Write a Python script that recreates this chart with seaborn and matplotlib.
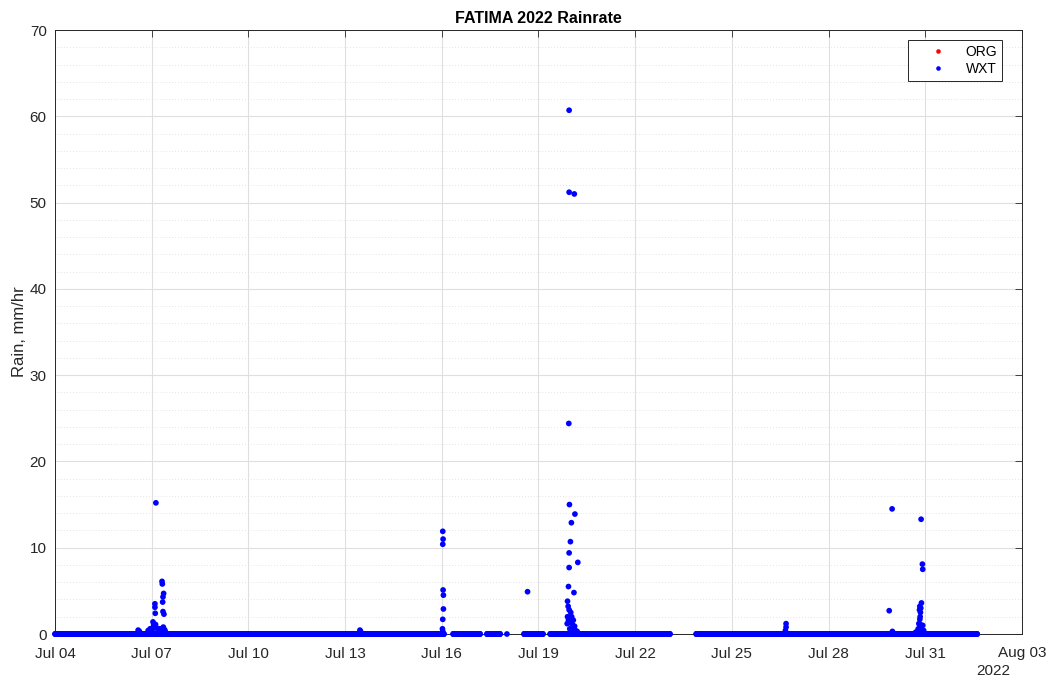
import numpy as np
import pandas as pd
import matplotlib
matplotlib.use("Agg")
import matplotlib.pyplot as plt
import matplotlib.dates as mdates
from matplotlib.ticker import MultipleLocator
import seaborn as sns

# ---------------- data ----------------
start = pd.Timestamp("2022-07-04")
end = pd.Timestamp("2022-08-03")

# zero-rain stretches of WXT record (day offsets from Jul 04 00:00)
zero_seg_start = [0.00, 12.35, 13.40, 14.02, 14.55, 15.36, 19.89]
zero_seg_end   = [12.07, 13.19, 13.81, 14.02, 15.14, 19.08, 28.61]
sample_minutes = 10

# non-zero WXT rain rates (day offset, mm/hr)
rain_days = [
    2.58, 2.62, 2.89, 2.95, 3.01, 3.04, 3.06, 3.08, 3.10, 3.10, 3.11, 3.13, 3.12, 3.15,
    3.20, 3.25, 3.30, 3.32, 3.33, 3.35, 3.34, 3.37, 3.35, 3.38, 3.40, 3.36, 3.42,
    9.46, 9.48,
    12.03, 12.04, 12.03, 12.04, 12.05, 12.05, 12.03, 12.02, 12.03,
    14.66,
    15.95, 15.95, 16.11, 15.94, 15.96, 16.13, 16.02, 15.99, 15.95, 16.22, 15.95, 15.93,
    16.10, 15.90, 15.92, 15.95, 16.00, 15.90, 15.93, 16.00, 15.89, 16.05, 16.12, 16.10,
    16.15, 15.97, 16.20, 16.08, 16.03,
    22.68, 22.68, 22.66,
    25.97, 25.88, 25.98, 26.87, 26.91, 26.92, 26.88, 26.83, 26.86, 26.82, 26.85, 26.84,
    26.83, 26.80, 26.85, 26.88, 26.92, 26.78, 26.90, 26.75, 26.95, 26.70,
]
rain_vals = [
    0.45, 0.3, 0.4, 0.6, 0.4, 1.4, 1.0, 0.8, 3.5, 3.1, 2.4, 15.2, 1.1, 0.7,
    0.5, 0.6, 0.4, 6.1, 5.8, 4.3, 3.7, 4.7, 2.6, 2.3, 0.5, 0.8, 0.3,
    0.45, 0.3,
    11.9, 11.0, 10.4, 5.1, 4.5, 2.9, 1.7, 0.6, 0.3,
    4.9,
    60.7, 51.2, 51.0, 24.4, 15.0, 13.9, 12.9, 10.7, 9.4, 8.3, 7.7, 5.5,
    4.8, 3.8, 3.2, 2.8, 2.5, 2.0, 1.6, 1.3, 1.2, 1.1, 0.9, 0.5,
    0.4, 0.6, 0.3, 1.6, 2.0,
    1.2, 0.8, 0.4,
    14.5, 2.7, 0.3, 13.3, 8.1, 7.5, 3.6, 3.2, 3.0, 2.8, 2.5, 2.0,
    1.7, 1.2, 1.1, 0.9, 1.0, 0.6, 0.5, 0.3, 0.4, 0.2,
]

# ORG gauge: no visible data in this period
org_days = []
org_vals = []

series_names = ["ORG", "WXT"]
series_colors = ["#ff0000", "#0000ff"]

# ---------------- build frame ----------------
zero_days = []
for a, b in zip(zero_seg_start, zero_seg_end):
    n = int(round((b - a) * 1440 / sample_minutes)) + 1
    zero_days.append(np.linspace(a, b, n))
zero_days = np.concatenate(zero_days)

wxt_days = np.concatenate([zero_days, np.array(rain_days)])
wxt_vals = np.concatenate([np.zeros(len(zero_days)), np.array(rain_vals)])

df = pd.DataFrame({
    "time": list(start + pd.to_timedelta(org_days, unit="D")) + list(start + pd.to_timedelta(wxt_days, unit="D")),
    "rain": list(org_vals) + list(wxt_vals),
    "sensor": ["ORG"] * len(org_days) + ["WXT"] * len(wxt_days),
})

# ---------------- plot ----------------
sns.set_style("white")
plt.rcParams["font.family"] = ["Liberation Sans", "DejaVu Sans"]
dark = "#262626"

fig = plt.figure(figsize=(10.52, 6.81), dpi=100)
ax = fig.add_axes([55 / 1052, 1 - 634 / 681, 967 / 1052, 604 / 681])

sns.scatterplot(data=df, x="time", y="rain", hue="sensor", hue_order=series_names,
                palette=dict(zip(series_names, series_colors)), s=17, linewidth=0,
                ax=ax, legend=True)
for coll in ax.collections:
    coll.set_clip_on(False)
    coll.set_zorder(3)

ax.set_xlim(start, end)
ax.set_ylim(0, 70)
ticks = pd.date_range(start, end, freq="3D")
ax.set_xticks(ticks)
ax.xaxis.set_major_formatter(mdates.DateFormatter("%b %d"))
ax.yaxis.set_major_locator(MultipleLocator(10))
ax.yaxis.set_minor_locator(MultipleLocator(2))

ax.grid(True, which="major", color="#dfdfdf", linewidth=0.8, linestyle="-")
ax.grid(True, which="minor", axis="y", color="#dcdcdc", linewidth=0.6, linestyle=(0, (1, 2.5)))
ax.set_axisbelow(True)

for sp in ax.spines.values():
    sp.set_color(dark)
    sp.set_linewidth(0.7)
    sp.set_visible(True)
    sp.set_zorder(2.5)
ax.tick_params(axis="both", which="major", direction="in", length=5, width=0.6,
               colors=dark, labelsize=11, top=True, right=True)
ax.tick_params(axis="x", which="major", pad=9)
ax.tick_params(axis="y", which="major", pad=6)
ax.tick_params(axis="y", which="minor", left=False, right=False)

ax.set_xlabel("")
ax.set_ylabel("Rain, mm/hr", fontsize=12, color=dark, labelpad=2)
ax.set_title("FATIMA 2022 Rainrate", fontsize=11.5, fontweight="bold", color="black", pad=5)
ax.text((993 - 55) / 967, -0.05, "2022", transform=ax.transAxes, ha="center", va="top",
        fontsize=11, color=dark)

leg = ax.legend(loc="upper right", bbox_to_anchor=(1 - 20 / 967, 1 - 10 / 604),
                borderaxespad=0, frameon=True, fancybox=False, framealpha=1, edgecolor=dark,
                fontsize=10, markerscale=0.8, handletextpad=0.2, borderpad=0.35,
                labelspacing=0.2, handlelength=3.6, title=None)
leg.get_frame().set_linewidth(0.7)
for t in leg.get_texts():
    t.set_color("black")

fig.savefig("out.png", dpi=100)
